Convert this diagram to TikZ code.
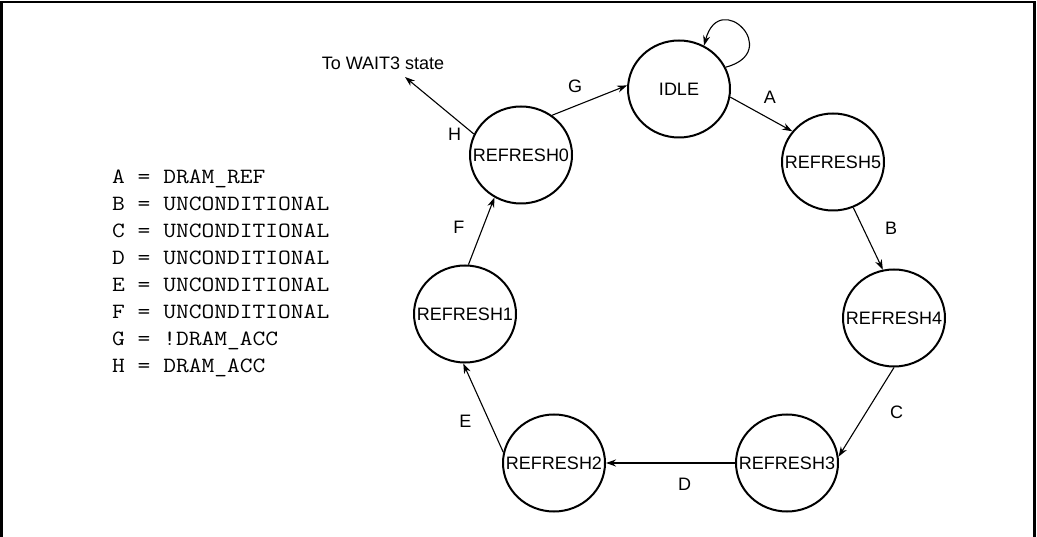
\documentclass[tikz,border=0pt]{standalone}
\usepackage{fontspec}
\setmainfont{Liberation Sans}
\newfontfamily\keyfont[FakeStretch=1.14]{Latin Modern Mono}
\usetikzlibrary{arrows.meta, positioning, shapes.geometric}
\newcommand{\sname}[1]{\makebox[0pt]{#1}}

\begin{document}
\begin{tikzpicture}[x=1pt, y=1pt, on grid, >={Stealth[length=10pt, width=7pt]},
  state/.style={draw, ellipse, line width=2pt, minimum width=102pt, minimum height=97pt,
    inner sep=0pt, font=\fontsize{18}{20}\selectfont},
  lbl/.style={inner sep=0pt, font=\fontsize{18}{20}\selectfont},
  legend/.style={anchor=base west, inner sep=0pt, font=\keyfont\fontsize{21.75}{27}\selectfont},
  trans/.style={->, line width=1.1pt}]
  \useasboundingbox (0,0) rectangle (1037,-537);
  \draw[line width=2.5pt] (1.5,-537) -- (1.5,-2) -- (1034.5,-2) -- (1034.5,-537);

  % states
  \node[state] (idle) at (679,-89) {\sname{IDLE}};
  \node[state] (r5) [below right=73pt and 154pt of idle] {\sname{REFRESH5}};
  \node[state] (r4) [below right=156pt and 61pt of r5] {\sname{REFRESH4}};
  \node[state] (r3) [below left=145pt and 107pt of r4] {\sname{REFRESH3}};
  \node[state] (r2) [left=233pt of r3] {\sname{REFRESH2}};
  \node[state] (r1) [above left=149pt and 89pt of r2] {\sname{REFRESH1}};
  \node[state] (r0) [above right=159pt and 56pt of r1] {\sname{REFRESH0}};

  \node[lbl] (towait) at (383,-63) {To WAIT3 state};
  \coordinate (wait3) at (405,-77);

  % transitions
  \draw[trans] (idle.25) .. controls +(15:60pt) and +(75:60pt) .. (idle.60);
  \path[trans]
    (r0.52) edge node[lbl, pos=.4, shift={(-7pt,17.4pt)}] (labG) {G} (idle.176)
    (idle.351) edge node[lbl, pos=.5, shift={(8.5pt,16.5pt)}] (labA) {A} (r5.143)
    (r5.294) edge node[lbl, pos=.5, shift={(23pt,10.5pt)}] (labB) {B} (r4.103)
    (r4.270) edge node[lbl, pos=.35, shift={(21.9pt,-13.8pt)}] (labC) {C} (r3.7)
    (r2.168) edge node[lbl, pos=.45, shift={(-20pt,-9.2pt)}] (labE) {E} (r1.268)
    (r1.86) edge node[lbl, pos=.44, shift={(-21pt,7.5pt)}] (labF) {F} (r0.238)
    (r0.156) edge node[lbl, pos=.16, shift={(-8.3pt,-9.8pt)}] (labH) {H} (wait3);
  \path[trans, line width=2pt]
    (r3.180) edge node[lbl, pos=.39, shift={(0pt,-21pt)}] (labD) {D} (r2.0);

  % key
  \node[legend] (keyA) at (112,-184) {A = DRAM\_REF};
  \node[legend] (keyB) at ([yshift=-27pt]keyA.base west) {B = UNCONDITIONAL};
  \node[legend] (keyC) at ([yshift=-27pt]keyB.base west) {C = UNCONDITIONAL};
  \node[legend] (keyD) at ([yshift=-27pt]keyC.base west) {D = UNCONDITIONAL};
  \node[legend] (keyE) at ([yshift=-27pt]keyD.base west) {E = UNCONDITIONAL};
  \node[legend] (keyF) at ([yshift=-27pt]keyE.base west) {F = UNCONDITIONAL};
  \node[legend] (keyG) at ([yshift=-27pt]keyF.base west) {G = !DRAM\_ACC};
  \node[legend] (keyH) at ([yshift=-27pt]keyG.base west) {H = DRAM\_ACC};
\end{tikzpicture}
\end{document}
